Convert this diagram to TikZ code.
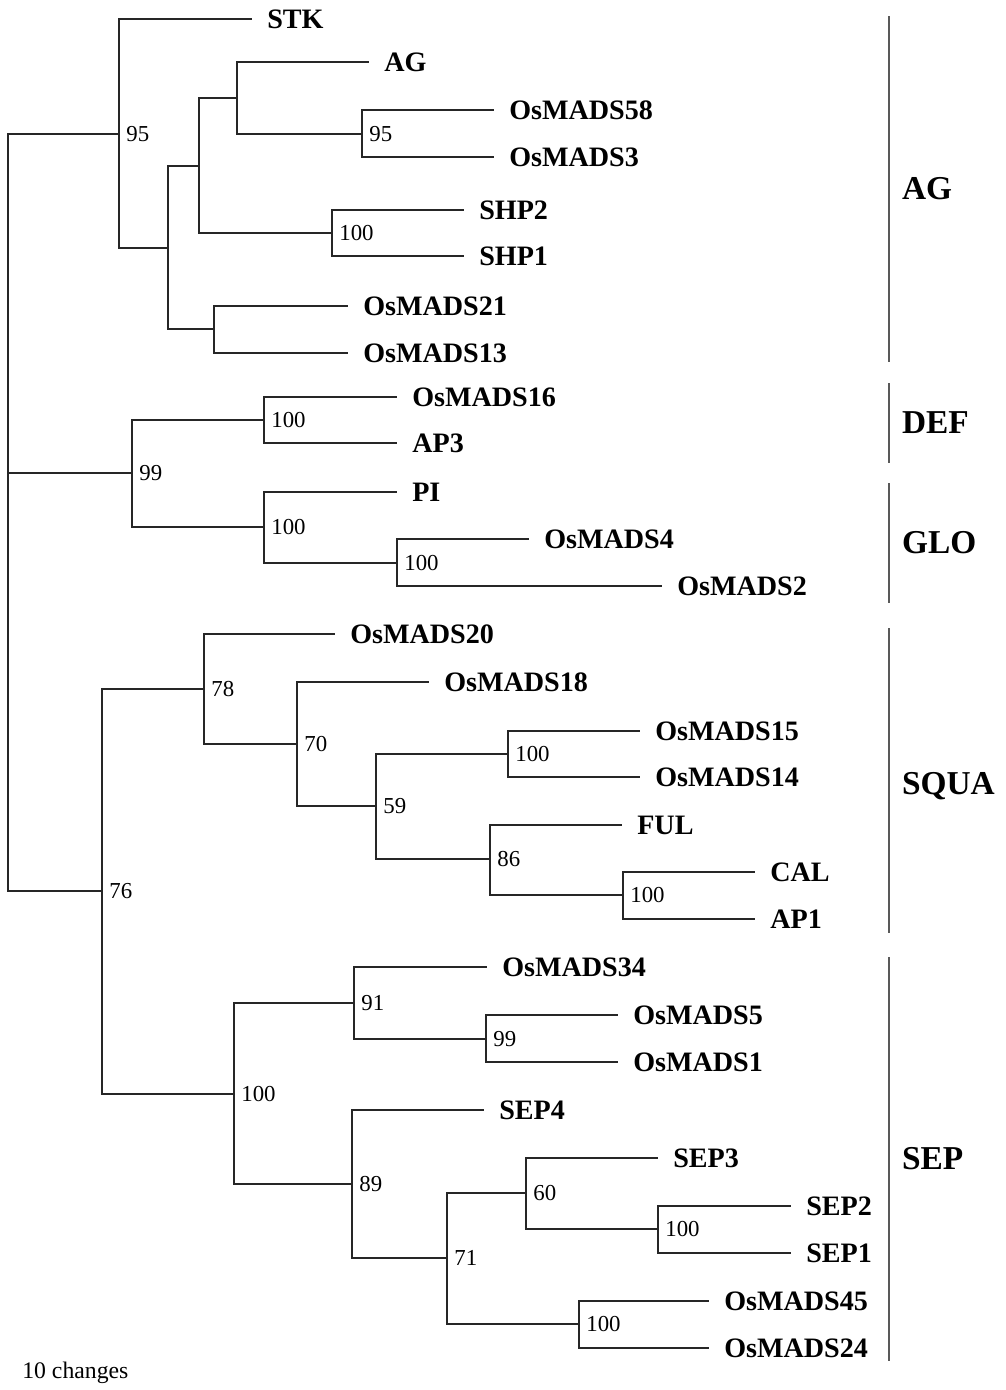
\documentclass[tikz,border=0pt]{standalone}
\usepackage{fontspec}
\setmainfont{Liberation Serif}
\usepackage{tikz}

\begin{document}
\begin{tikzpicture}[x=0.02cm,y=-0.02cm,
  br/.style={line width=1.1pt,draw=black!85},
  leaf/.style={anchor=west,inner xsep=8.5pt,inner ysep=0pt,font=\fontsize{16}{18}\selectfont\bfseries},
  bs/.style={anchor=west,inner sep=4pt,font=\fontsize{13}{15}\selectfont},
  grpbar/.style={line width=0.9pt,draw=black!65},
  grp/.style={anchor=west,inner xsep=7pt,font=\fontsize{19}{21}\selectfont\bfseries}]
\useasboundingbox (0,0) rectangle (1006,1390);
% internal nodes
\coordinate (root) at (8,473);
\coordinate (n95) at (119,134);
\coordinate (nA) at (168,248);
\coordinate (nB) at (199,166);
\coordinate (nAG) at (237,98);
\coordinate (n58) at (362,134);
\coordinate (nSHP) at (332,233);
\coordinate (nC) at (214,329);
\coordinate (n99) at (132,473);
\coordinate (nDEF) at (264,420);
\coordinate (nGLO) at (264,527);
\coordinate (n4) at (397,563);
\coordinate (n76) at (102,891);
\coordinate (n78) at (204,689);
\coordinate (n70) at (297,744);
\coordinate (n59) at (376,806);
\coordinate (n15) at (508,754);
\coordinate (n86) at (490,859);
\coordinate (nCAL) at (623,895);
\coordinate (n100) at (234,1094);
\coordinate (n91) at (354,1003);
\coordinate (n99b) at (486,1039);
\coordinate (n89) at (352,1184);
\coordinate (n71) at (447,1258);
\coordinate (n60) at (526,1193);
\coordinate (nSEP) at (658,1229);
\coordinate (n45) at (579,1324);
% leaves
\node[leaf] (stk) at (252,19) {STK};
\node[leaf] (ag) at (369,62) {AG};
\node[leaf] (m58) at (494,110) {OsMADS58};
\node[leaf] (m3) at (494,157) {OsMADS3};
\node[leaf] (shp2) at (464,210) {SHP2};
\node[leaf] (shp1) at (464,256) {SHP1};
\node[leaf] (m21) at (348,306) {OsMADS21};
\node[leaf] (m13) at (348,353) {OsMADS13};
\node[leaf] (m16) at (397,397) {OsMADS16};
\node[leaf] (ap3) at (397,443) {AP3};
\node[leaf] (pi) at (397,492) {PI};
\node[leaf] (m4) at (529,539) {OsMADS4};
\node[leaf] (m2) at (662,586) {OsMADS2};
\node[leaf] (m20) at (335,634) {OsMADS20};
\node[leaf] (m18) at (429,682) {OsMADS18};
\node[leaf] (m15) at (640,731) {OsMADS15};
\node[leaf] (m14) at (640,777) {OsMADS14};
\node[leaf] (ful) at (622,825) {FUL};
\node[leaf] (cal) at (755,872) {CAL};
\node[leaf] (ap1) at (755,919) {AP1};
\node[leaf] (m34) at (487,967) {OsMADS34};
\node[leaf] (m5) at (618,1015) {OsMADS5};
\node[leaf] (m1) at (618,1062) {OsMADS1};
\node[leaf] (sep4) at (484,1110) {SEP4};
\node[leaf] (sep3) at (658,1158) {SEP3};
\node[leaf] (sep2) at (791,1206) {SEP2};
\node[leaf] (sep1) at (791,1253) {SEP1};
\node[leaf] (m45) at (709,1301) {OsMADS45};
\node[leaf] (m24) at (709,1348) {OsMADS24};
% branches
\draw[br] (root) |- (n95) (root) -- (n99) (root) |- (n76);
\draw[br] (n95) |- (stk.west) (n95) |- (nA);
\draw[br] (nA) |- (nB) (nA) |- (nC);
\draw[br] (nB) |- (nAG) (nB) |- (nSHP);
\draw[br] (nAG) |- (ag.west) (nAG) |- (n58);
\draw[br] (n58) |- (m58.west) (n58) |- (m3.west);
\draw[br] (nSHP) |- (shp2.west) (nSHP) |- (shp1.west);
\draw[br] (nC) |- (m21.west) (nC) |- (m13.west);
\draw[br] (n99) |- (nDEF) (n99) |- (nGLO);
\draw[br] (nDEF) |- (m16.west) (nDEF) |- (ap3.west);
\draw[br] (nGLO) |- (pi.west) (nGLO) |- (n4);
\draw[br] (n4) |- (m4.west) (n4) |- (m2.west);
\draw[br] (n76) |- (n78) (n76) |- (n100);
\draw[br] (n78) |- (m20.west) (n78) |- (n70);
\draw[br] (n70) |- (m18.west) (n70) |- (n59);
\draw[br] (n59) |- (n15) (n59) |- (n86);
\draw[br] (n15) |- (m15.west) (n15) |- (m14.west);
\draw[br] (n86) |- (ful.west) (n86) |- (nCAL);
\draw[br] (nCAL) |- (cal.west) (nCAL) |- (ap1.west);
\draw[br] (n100) |- (n91) (n100) |- (n89);
\draw[br] (n91) |- (m34.west) (n91) |- (n99b);
\draw[br] (n99b) |- (m5.west) (n99b) |- (m1.west);
\draw[br] (n89) |- (sep4.west) (n89) |- (n71);
\draw[br] (n71) |- (n60) (n71) |- (n45);
\draw[br] (n60) |- (sep3.west) (n60) |- (nSEP);
\draw[br] (nSEP) |- (sep2.west) (nSEP) |- (sep1.west);
\draw[br] (n45) |- (m45.west) (n45) |- (m24.west);
% bootstrap values
\foreach \n/\v in {n95/95,n58/95,nSHP/100,n99/99,nDEF/100,nGLO/100,n4/100,
  n76/76,n78/78,n70/70,n59/59,n15/100,n86/86,nCAL/100,
  n100/100,n91/91,n99b/99,n89/89,n71/71,n60/60,nSEP/100,n45/100}
  \node[bs] at (\n) {\v};
% groups
\coordinate (agT) at (889,16);   \coordinate (agB) at (889,362);
\coordinate (defT) at (889,383); \coordinate (defB) at (889,463);
\coordinate (gloT) at (889,483); \coordinate (gloB) at (889,603);
\coordinate (squT) at (889,628); \coordinate (squB) at (889,933);
\coordinate (sepT) at (889,957); \coordinate (sepB) at (889,1361);
\draw[grpbar] (agT) -- node[grp]{AG} (agB);
\draw[grpbar] (defT) -- node[grp]{DEF} (defB);
\draw[grpbar] (gloT) -- node[grp]{GLO} (gloB);
\draw[grpbar] (squT) -- node[grp,pos=0.52]{SQUA} (squB);
\draw[grpbar] (sepT) -- node[grp]{SEP} (sepB);
\node[anchor=west,inner sep=0pt,font=\fontsize{13.5}{15}\selectfont] (chg) at (22,1373) {10 changes};
\end{tikzpicture}
\end{document}
